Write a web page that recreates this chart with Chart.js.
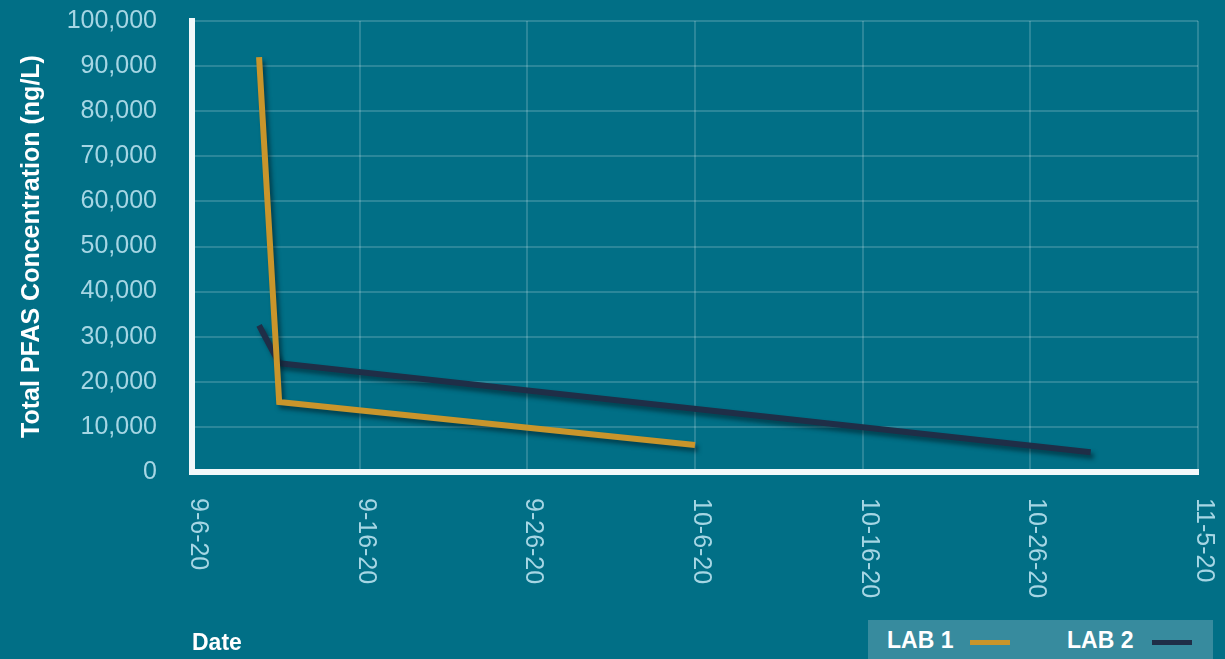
<!DOCTYPE html>
<html lang="en">
<head>
  <meta charset="UTF-8" />
  <title>Total PFAS Concentration</title>
  <script src="https://cdn.jsdelivr.net/npm/chart.js"></script>
  <style>
    body {
      margin: 0;
      background: #016f86;
      font-family: 'Liberation Sans', Arial, sans-serif;
      overflow: hidden;
    }

    #wrap {
      position: relative;
      width: 1225px;
      height: 659px;
    }

    #legend {
      position: absolute;
      left: 868px;
      top: 620px;
      width: 345px;
      height: 45px;
      background: #378b9e;
      color: #fff;
      font-weight: bold;
      font-size: 23px;
    }

    #legend span.lbl {
      position: absolute;
      top: 7px;
    }

    #legend span.swatch {
      position: absolute;
      top: 20px;
      width: 40px;
      height: 5px;
    }
  </style>
</head>

<body>
  <div id="wrap">
    <canvas id="pfasChart" width="1225" height="659"></canvas>
    <div id="legend">
      <span class="lbl" style="left:19px">LAB 1</span>
      <span class="swatch" style="left:102px;background:#c9952b"></span>
      <span class="lbl" style="left:199px">LAB 2</span>
      <span class="swatch" style="left:284px;background:#1f2e47"></span>
    </div>
  </div>

  <script>
    // days counted from 9-6-20
    const xTickLabels = ['9-6-20', '9-16-20', '9-26-20', '10-6-20', '10-16-20', '10-26-20', '11-5-20'];
    const lab1Days = [4, 5.2, 30];
    const lab1Values = [92000, 15500, 6000];
    const lab2Days = [4, 5.2, 53.6];
    const lab2Values = [32500, 24100, 4400];

    const GOLD = '#c9952b';
    const NAVY = '#1f2e47';
    const TICK_COLOR = '#a6d6e4';
    const GRID = 'rgba(255,255,255,0.17)';

    const toPoints = (xs, ys) => xs.map((x, i) => ({ x, y: ys[i] }));

    // soft drop shadow under the lines
    const lineShadow = {
      id: 'lineShadow',
      beforeDatasetDraw(chart) {
        const ctx = chart.ctx;
        ctx.save();
        ctx.shadowColor = 'rgba(0, 25, 35, 0.55)';
        ctx.shadowOffsetX = 3;
        ctx.shadowOffsetY = 4;
        ctx.shadowBlur = 4;
      },
      afterDatasetDraw(chart) {
        chart.ctx.restore();
      }
    };

    // x tick labels read top to bottom
    const xLabels = {
      id: 'xLabels',
      afterDraw(chart) {
        const ctx = chart.ctx;
        const xs = chart.scales.x;
        ctx.save();
        ctx.fillStyle = TICK_COLOR;
        ctx.font = "25px 'Liberation Sans', Arial, sans-serif";
        ctx.textAlign = 'left';
        ctx.textBaseline = 'middle';
        xs.ticks.forEach((t, i) => {
          const px = xs.getPixelForValue(t.value);
          ctx.save();
          ctx.translate(px + 6, chart.chartArea.bottom + 26);
          ctx.rotate(Math.PI / 2);
          ctx.fillText(xTickLabels[i] || '', 0, 0);
          ctx.restore();
        });
        ctx.restore();
      }
    };

    new Chart(document.getElementById('pfasChart'), {
      type: 'line',
      data: {
        datasets: [
          { label: 'LAB 1', data: toPoints(lab1Days, lab1Values), borderColor: GOLD, borderWidth: 6, pointRadius: 0, fill: false, tension: 0 },
          { label: 'LAB 2', data: toPoints(lab2Days, lab2Values), borderColor: NAVY, borderWidth: 6, pointRadius: 0, fill: false, tension: 0 }
        ]
      },
      options: {
        responsive: false,
        animation: false,
        events: [],
        layout: { padding: { top: 21, right: 27, left: 0, bottom: 0 } },
        plugins: { legend: { display: false }, tooltip: { enabled: false } },
        scales: {
          x: {
            type: 'linear',
            min: 0,
            max: 60,
            ticks: { stepSize: 10, display: false },
            grid: { color: GRID, lineWidth: 2, drawTicks: false },
            border: { color: '#f2f8fa', width: 6 },
            title: {
              display: true,
              text: 'Date',
              align: 'start',
              color: '#ffffff',
              font: { family: "'Liberation Sans', Arial, sans-serif", size: 23, weight: 'bold' },
              padding: { top: 0, bottom: 2 }
            },
            afterFit(scale) { scale.height = 187; scale.paddingLeft = 0; scale.paddingRight = 0; }
          },
          y: {
            min: 0,
            max: 100000,
            ticks: {
              stepSize: 10000,
              color: TICK_COLOR,
              padding: 35,
              font: { family: "'Liberation Sans', Arial, sans-serif", size: 25 },
              callback: v => v.toLocaleString('en-US')
            },
            grid: { color: GRID, lineWidth: 2, drawTicks: false },
            border: { color: '#f2f8fa', width: 6 },
            title: {
              display: true,
              text: 'Total PFAS Concentration (ng/L)',
              color: '#ffffff',
              font: { family: "'Liberation Sans', Arial, sans-serif", size: 25, weight: 'bold' },
              padding: { top: 17, bottom: 0 }
            },
            afterFit(scale) { scale.width = 192; scale.paddingTop = 0; scale.paddingBottom = 0; }
          }
        }
      },
      plugins: [lineShadow, xLabels]
    });
  </script>
</body>
</html>
